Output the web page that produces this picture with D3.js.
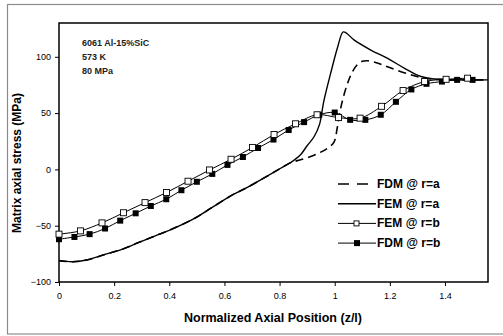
<!DOCTYPE html>
<html>
<head>
<meta charset="utf-8">
<script src="https://cdn.jsdelivr.net/npm/d3@7"></script>
<style>
  body { margin: 0; background: #fff; }
  svg { font-family: Arial, "Liberation Sans", sans-serif; }
</style>
</head>
<body>
<div id="chart"></div>
<script>
// values
var fdmA = [[0,-81],[0.05,-82],[0.1,-80.5],[0.167,-75.5],[0.228,-71],[0.288,-65],[0.349,-59],[0.41,-53],[0.495,-43],[0.56,-33],
    [0.634,-22],[0.683,-16],[0.755,-6],[0.804,1],[0.84,6],[0.876,8.5],[0.925,12.5],[0.955,16],[0.975,19],[0.997,24],[1.01,38],
    [1.025,58],[1.046,76],[1.065,87],[1.082,93],[1.1,96],[1.119,96.5],[1.16,94],[1.204,90],[1.264,85],[1.325,81],[1.38,79.8],[1.45,79.5],[1.556,79.5]];
var femA = [[0,-81],[0.05,-82],[0.1,-80.5],[0.167,-75.5],[0.228,-71],[0.288,-65],[0.349,-59],[0.41,-53],[0.495,-43],[0.56,-33],
    [0.634,-22],[0.683,-16],[0.755,-6],[0.804,1],[0.84,6],[0.876,13],[0.9,21],[0.925,29],[0.945,40],[0.96,60],[0.985,85],
    [1.01,108],[1.03,122],[1.04,121.5],[1.07,115],[1.131,106],[1.192,98.5],[1.252,90],[1.313,82.5],[1.373,80],[1.45,79.5],[1.556,79.5]];
var femBx = [0,0.078,0.156,0.234,0.312,0.39,0.468,0.546,0.624,0.702,0.78,0.858,0.936,1.014,1.092,1.17,1.248,1.326,1.404,1.482];
var femBy = [-57.5,-54.6,-47.5,-38.5,-29.5,-20.5,-10.5,-0.5,9,19.5,31,40.5,48.5,46,45.5,56,70,78,80,81];
var fdmBx = [0,0.056,0.111,0.167,0.222,0.278,0.333,0.389,0.444,0.5,0.556,0.611,0.667,0.722,0.778,0.833,0.889,0.944,
    1.0,1.056,1.111,1.167,1.222,1.278,1.333,1.389,1.444,1.5];
var fdmBy = [-62,-60,-57.5,-52.5,-45.5,-39,-32.5,-26.5,-18.5,-11,-4,4,11,19,26.5,35,42,48.5,
    50.5,44,44,48.5,60,71,76,78,79.5,79.5];
var xTicks = [0,0.2,0.4,0.6,0.8,1,1.2,1.4];
var yTicks = [-100,-50,0,50,100];
var notes = ["6061 Al-15%SiC", "573 K", "80 MPa"];
var legendItems = ["FDM @ r=a", "FEM @ r=a", "FEM @ r=b", "FDM @ r=b"];

var W = 503, H = 336;
var svg = d3.select("#chart").append("svg").attr("width", W).attr("height", H);

// outer grey frame
svg.append("rect").attr("x", 7.5).attr("y", 4.5).attr("width", 520).attr("height", 329.5)
    .attr("fill", "none").attr("stroke", "#8c8c8c").attr("stroke-width", 1.2);

var x = d3.scaleLinear().domain([0, 1.556]).range([59, 488]);
var y = d3.scaleLinear().domain([-100, 130]).range([282, 23]);

var line = d3.line().x(d => x(d[0])).y(d => y(d[1])).curve(d3.curveCatmullRom);
var femB = femBx.map((v, i) => [v, femBy[i]]);
var fdmB = fdmBx.map((v, i) => [v, fdmBy[i]]);

// axes
var xAxis = svg.append("g").attr("transform", "translate(0,282)")
    .call(d3.axisBottom(x).tickValues(xTicks).tickSize(4).tickPadding(7).tickFormat(d3.format("")));
var yAxis = svg.append("g").attr("transform", "translate(59,0)")
    .call(d3.axisLeft(y).tickValues(yTicks).tickSize(4).tickPadding(4));
[xAxis, yAxis].forEach(a => {
    a.select(".domain").remove();
    a.selectAll("line").attr("stroke", "#000");
    a.selectAll("text").attr("font-size", 9).attr("fill", "#000").attr("font-family", "Arial, 'Liberation Sans', sans-serif");
});

// plot frame
svg.append("rect").attr("x", 59).attr("y", 23).attr("width", 429).attr("height", 259)
    .attr("fill", "none").attr("stroke", "#000").attr("stroke-width", 1.5);

// series lines
svg.append("path").datum(femB).attr("fill", "none").attr("stroke", "#000").attr("stroke-width", 1).attr("d", line);
svg.append("path").datum(fdmB).attr("fill", "none").attr("stroke", "#000").attr("stroke-width", 1).attr("d", line);
svg.append("path").datum(fdmA).attr("fill", "none").attr("stroke", "#000").attr("stroke-width", 1.6)
    .attr("stroke-dasharray", "8,5").attr("d", line);
svg.append("path").datum(femA).attr("fill", "none").attr("stroke", "#000").attr("stroke-width", 1.4).attr("d", line);

// markers
svg.selectAll(".fdmb").data(fdmB).enter().append("rect").attr("class", "fdmb")
    .attr("x", d => x(d[0]) - 3).attr("y", d => y(d[1]) - 3).attr("width", 6).attr("height", 6).attr("fill", "#000");
svg.selectAll(".femb").data(femB).enter().append("rect").attr("class", "femb")
    .attr("x", d => x(d[0]) - 3).attr("y", d => y(d[1]) - 3).attr("width", 6).attr("height", 6)
    .attr("fill", "#fff").attr("stroke", "#000").attr("stroke-width", 0.9);

// annotations
svg.selectAll(".note").data(notes).enter().append("text").attr("class", "note")
    .attr("x", 82).attr("y", (d, i) => 46 + i * 14).attr("font-size", 9).attr("font-weight", "bold")
    .attr("fill", "#222").text(d => d);

// legend
var lg = svg.selectAll(".lg").data(legendItems).enter().append("g").attr("class", "lg")
    .attr("transform", (d, i) => "translate(0," + (184 + i * 19.7) + ")");
lg.append("line").attr("x1", 338).attr("x2", (d, i) => i === 0 ? 369 : 376).attr("y1", 0).attr("y2", 0).attr("stroke", "#000")
    .attr("stroke-width", (d, i) => i < 2 ? 1.5 : 1).attr("stroke-dasharray", (d, i) => i === 0 ? "11,8" : null);
lg.filter((d, i) => i === 2).append("rect").attr("x", 354).attr("y", -2.5).attr("width", 5).attr("height", 5)
    .attr("fill", "#fff").attr("stroke", "#000").attr("stroke-width", 0.9);
lg.filter((d, i) => i === 3).append("rect").attr("x", 354).attr("y", -3).attr("width", 6).attr("height", 6).attr("fill", "#000");
lg.append("text").attr("x", 377).attr("y", 4).attr("font-size", 12).attr("font-weight", "bold").text(d => d);

// axis titles
svg.append("text").attr("transform", "translate(21,163) rotate(-90)").attr("text-anchor", "middle")
    .attr("font-size", 12).attr("font-weight", "bold").text("Matrix axial stress (MPa)");
svg.append("text").attr("x", 273).attr("y", 322).attr("text-anchor", "middle")
    .attr("font-size", 12.5).attr("font-weight", "bold").text("Normalized Axial Position (z/l)");
</script>
</body>
</html>
